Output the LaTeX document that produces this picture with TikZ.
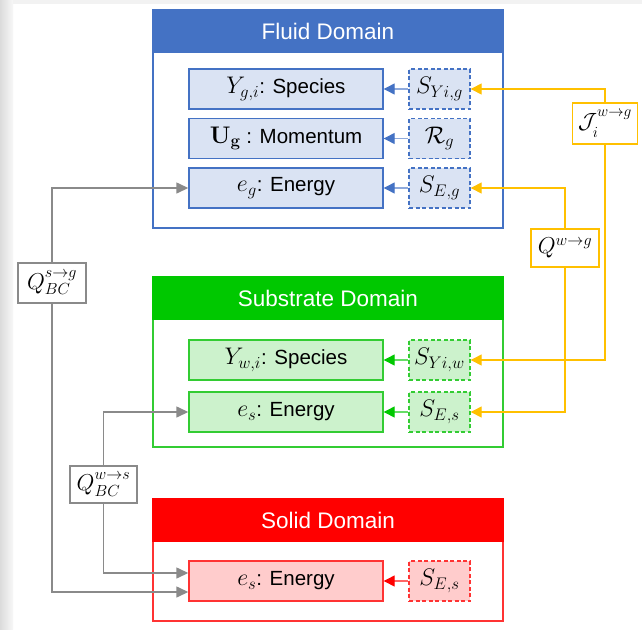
\documentclass[tikz,border=0pt]{standalone}
\usepackage[no-math]{fontspec}
\setmainfont{Liberation Sans}
\usepackage{fix-cm}
\usepackage{graphicx}
\usetikzlibrary{arrows.meta}
\definecolor{cblue}{HTML}{4472C4}
\definecolor{lblue}{HTML}{DAE3F3}
\definecolor{mblue}{HTML}{8FAADC}
\definecolor{cgreen}{HTML}{00C800}
\definecolor{bgreen}{HTML}{33CC33}
\definecolor{lgreen}{HTML}{CCF2CC}
\definecolor{mgreen}{HTML}{66DD66}
\definecolor{cred}{HTML}{FF0000}
\definecolor{bred}{HTML}{FF3333}
\definecolor{lred}{HTML}{FFCCCC}
\definecolor{mred}{HTML}{FF6666}
\definecolor{corange}{HTML}{FFC000}
\definecolor{cgray}{HTML}{8A8A8A}
\newcommand\mth[1]{{\fontsize{24}{28}\selectfont$#1$}}
\newcommand\lbl[1]{{\fontsize{23}{28}\selectfont$#1$}}
\newcommand\hisup[1]{\raisebox{3pt}{$\scriptstyle #1$}}
\begin{document}
\begin{tikzpicture}[x=1pt,y=-1pt,
  domainbox/.style={draw, line width=1.8pt, fill=white, minimum width=350pt, inner sep=0pt},
  headbox/.style={fill=#1, draw=#1, line width=1.8pt, minimum width=350pt, minimum height=42pt, anchor=north, text=white, font=\fontsize{22.5}{26}\selectfont, inner sep=0pt},
  eqbox/.style={draw=#1, line width=1.4pt, minimum width=194pt, minimum height=40pt, inner sep=0pt, font=\fontsize{20.5}{24}\selectfont},
  srcbox/.style={draw=#1, dashed, dash pattern=on 4pt off 2.5pt, line width=1.4pt, minimum width=61pt, minimum height=40pt, inner sep=0pt},
  lblbox/.style={draw=#1, fill=white, line width=1.4pt, inner sep=0pt},
  inarrow/.style 2 args={draw=#1, line width=1.3pt, -{Triangle[length=11pt,width=11pt,color=#2,fill=#2]}},
  orarrow/.style={draw=corange, line width=1.4pt, -{Triangle[length=11pt,width=11pt]}},
  grarrow/.style={draw=cgray, line width=1.4pt, -{Triangle[length=12pt,width=11pt]}}]
\useasboundingbox (0,0) rectangle (642,629);
\fill[white] (0,0) rectangle (642,629);
\shade[left color=gray!28, right color=gray!6] (0,0) rectangle (13,629);
\fill[gray!10] (13,0) rectangle (642,4);

% Fluid domain
\node[domainbox, draw=cblue, minimum height=218pt] (fluid) at (328,119) {};
\node[headbox=cblue] (fluidhead) at (fluid.north) {Fluid Domain};
\node[eqbox=cblue, fill=lblue] (yg) at (286,89) {\mth{Y_{g,i}}: Species};
\node[eqbox=cblue, fill=lblue] (ug) at (286,138.5) {\mth{\mathbf{U}_{\mathbf{g}}} : Momentum};
\node[eqbox=cblue, fill=lblue] (eg) at (286,188) {\mth{e_g}: Energy};
\node[srcbox=cblue, fill=lblue] (syg) at (439.5,89) {\mth{S_{Yi,g}}};
\node[srcbox=cblue, fill=lblue] (rg) at (439.5,138.5) {\mth{\mathcal{R}_g}};
\node[srcbox=cblue, fill=lblue] (seg) at (439.5,188) {\mth{S_{E,g}}};
\draw[inarrow={mblue}{cblue}] (syg) -- (yg);
\draw[inarrow={mblue}{cblue}] (rg) -- (ug);
\draw[inarrow={mblue}{cblue}] (seg) -- (eg);

% Substrate domain
\node[domainbox, draw=bgreen, minimum height=170pt] (sub) at (328,362) {};
\node[headbox=cgreen] (subhead) at (sub.north) {Substrate Domain};
\node[eqbox=bgreen, fill=lgreen] (yw) at (286,360) {\mth{Y_{w,i}}: Species};
\node[eqbox=bgreen, fill=lgreen] (esw) at (286,412) {\mth{e_s}: Energy};
\node[srcbox=bgreen, fill=lgreen] (syw) at (439.5,360) {\mth{S_{Yi,w}}};
\node[srcbox=bgreen, fill=lgreen] (sesw) at (439.5,412) {\mth{S_{E,s}}};
\draw[inarrow={mgreen}{cgreen}] (syw) -- (yw);
\draw[inarrow={mgreen}{cgreen}] (sesw) -- (esw);

% Solid domain
\node[domainbox, draw=bred, minimum height=122pt] (sol) at (328,560) {};
\node[headbox=cred] (solhead) at (sol.north) {Solid Domain};
\node[eqbox=bred, fill=lred] (ess) at (286,581) {\mth{e_s}: Energy};
\node[srcbox=bred, fill=lred] (sess) at (439.5,581) {\mth{S_{E,s}}};
\draw[inarrow={mred}{cred}] (sess) -- (ess);

% Interface labels
\node[lblbox=corange, minimum width=65pt, minimum height=41pt] (jwg) at (605,123.5) {{\fontsize{22}{26}\selectfont$\mathcal{J}_{\raisebox{-3pt}{$\scriptstyle i$}}^{\raisebox{4pt}{$\scriptstyle w\to g$}}$}};
\node[lblbox=corange, minimum width=68pt, minimum height=38pt] (qwg) at (565,248) {\lbl{Q^{w\to g}}};
\node[lblbox=cgray, minimum width=68pt, minimum height=40pt] (qsg) at (52,283) {\lbl{Q_{BC}^{\hisup{s\to g}}}};
\node[lblbox=cgray, minimum width=67pt, minimum height=37pt] (qws) at (103.5,484.5) {\lbl{Q_{BC}^{\hisup{w\to s}}}};

% Orange connectors
\draw[orarrow] (jwg.north) |- (syg.east);
\draw[orarrow] (jwg.south) |- (syw.east);
\draw[orarrow] (qwg.north) |- (seg.east);
\draw[orarrow] (qwg.south) |- (sesw.east);

% Gray connectors
\draw[grarrow] (qsg.north) |- (eg.west);
\draw[grarrow] (qsg.south) |- ([yshift=-11pt]ess.west);
\draw[grarrow] (qws.north) |- (esw.west);
\draw[grarrow] (qws.south) |- ([yshift=8pt]ess.west);
\end{tikzpicture}
\end{document}
